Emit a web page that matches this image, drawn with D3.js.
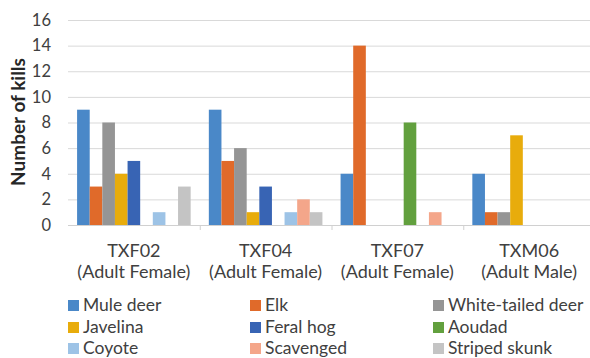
<!DOCTYPE html>
<html><head><meta charset="utf-8">
<script src="https://cdn.jsdelivr.net/npm/d3@7"></script>
<style>body{margin:0;background:#fff;} svg{display:block;font-family:Lato, "Open Sans", sans-serif;}</style>
</head><body><svg id="c" width="590" height="358"></svg>
<script>
const groups = ["TXF02", "TXF04", "TXF07", "TXM06"];
const groupSub = ["(Adult Female)", "(Adult Female)", "(Adult Female)", "(Adult Male)"];
const seriesNames = ["Mule deer","Elk","White-tailed deer","Javelina","Feral hog","Aoudad","Coyote","Scavenged","Striped skunk"];
const seriesColors = ["#4A88C8","#E06A2A","#959595","#E8AC0C","#3864B4","#62A03E","#9DC3E6","#F4A68A","#C4C4C4"];
const muleDeer = [9, 9, 4, 4];
const elk = [3, 5, 14, 1];
const whiteTailed = [8, 6, 0, 1];
const javelina = [4, 1, 0, 7];
const feralHog = [5, 3, 0, 0];
const aoudad = [0, 0, 8, 0];
const coyote = [1, 1, 0, 0];
const scavenged = [0, 2, 1, 0];
const stripedSkunk = [3, 1, 0, 0];
const yTicks = [0,2,4,6,8,10,12,14,16];

(function(){
const series = [muleDeer, elk, whiteTailed, javelina, feralHog, aoudad, coyote, scavenged, stripedSkunk];
const svg = d3.select("#c");
const pL = 68, pR = 595, pT = 20, pB = 225;
const y = d3.scaleLinear().domain([0,16]).range([pB, pT]);
const x0 = d3.scaleBand().domain(groups).range([pL, pR]).paddingInner(0).paddingOuter(0);
const x1 = d3.scaleBand().domain(seriesNames).range([0, x0.bandwidth()]).paddingInner(0).paddingOuter(0.72);

svg.append("g").selectAll("line").data(yTicks.filter(d=>d>0)).join("line")
  .attr("x1", pL).attr("x2", pR).attr("y1", d=>y(d)+0.5).attr("y2", d=>y(d)+0.5)
  .attr("stroke", "#D9D9D9").attr("stroke-width", 1);

svg.append("g").selectAll("text").data(yTicks).join("text")
  .attr("x", 51).attr("y", d=>y(d)).attr("dy","0.35em").attr("text-anchor","end")
  .attr("font-size", 16.5).attr("fill", "#404040").text(d=>d);

const gg = svg.append("g").selectAll("g").data(groups).join("g")
  .attr("transform", g=>`translate(${x0(g)},0)`);
gg.selectAll("rect").data((g,gi)=>series.map((s,si)=>({name:seriesNames[si], v:s[gi], c:seriesColors[si]})))
  .join("rect")
  .attr("x", d=>x1(d.name)).attr("width", x1.bandwidth())
  .attr("y", d=>y(d.v)).attr("height", d=>y(0)-y(d.v))
  .attr("fill", d=>d.c);

svg.append("line").attr("x1", pL).attr("x2", pR).attr("y1", pB+0.5).attr("y2", pB+0.5)
  .attr("stroke", "#D0D0D0");
svg.append("g").selectAll("line").data(groups.slice(1)).join("line")
  .attr("x1", g=>x0(g)+0.5).attr("x2", g=>x0(g)+0.5).attr("y1", pB).attr("y2", pB+5)
  .attr("stroke", "#D0D0D0");

const cl = svg.append("g").selectAll("text").data(groups).join("text")
  .attr("text-anchor","middle").attr("font-size", 18).attr("fill", "#404040");
cl.append("tspan").attr("x", g=>x0(g)+x0.bandwidth()/2).attr("y", 257).text(g=>g);
cl.append("tspan").attr("x", g=>x0(g)+x0.bandwidth()/2).attr("y", 278).text((g,i)=>groupSub[i]);

svg.append("text").attr("transform", `translate(25,122) rotate(-90)`)
  .attr("text-anchor","middle").attr("font-size", 19).attr("font-weight","bold").attr("fill","#262626")
  .text("Number of kills");

const colX = [68, 250, 433];
const rowY = [305, 327, 348];
const lg = svg.append("g").selectAll("g").data(seriesNames).join("g")
  .attr("transform", (d,i)=>`translate(${colX[i%3]},${rowY[Math.floor(i/3)]})`);
lg.append("rect").attr("x",0).attr("y",-5).attr("width",11).attr("height",11).attr("fill",(d,i)=>seriesColors[i]);
lg.append("text").attr("x",15).attr("y",0).attr("dy","0.35em").attr("font-size",17.5).attr("fill","#404040").text(d=>d);
})();
</script></body></html>
